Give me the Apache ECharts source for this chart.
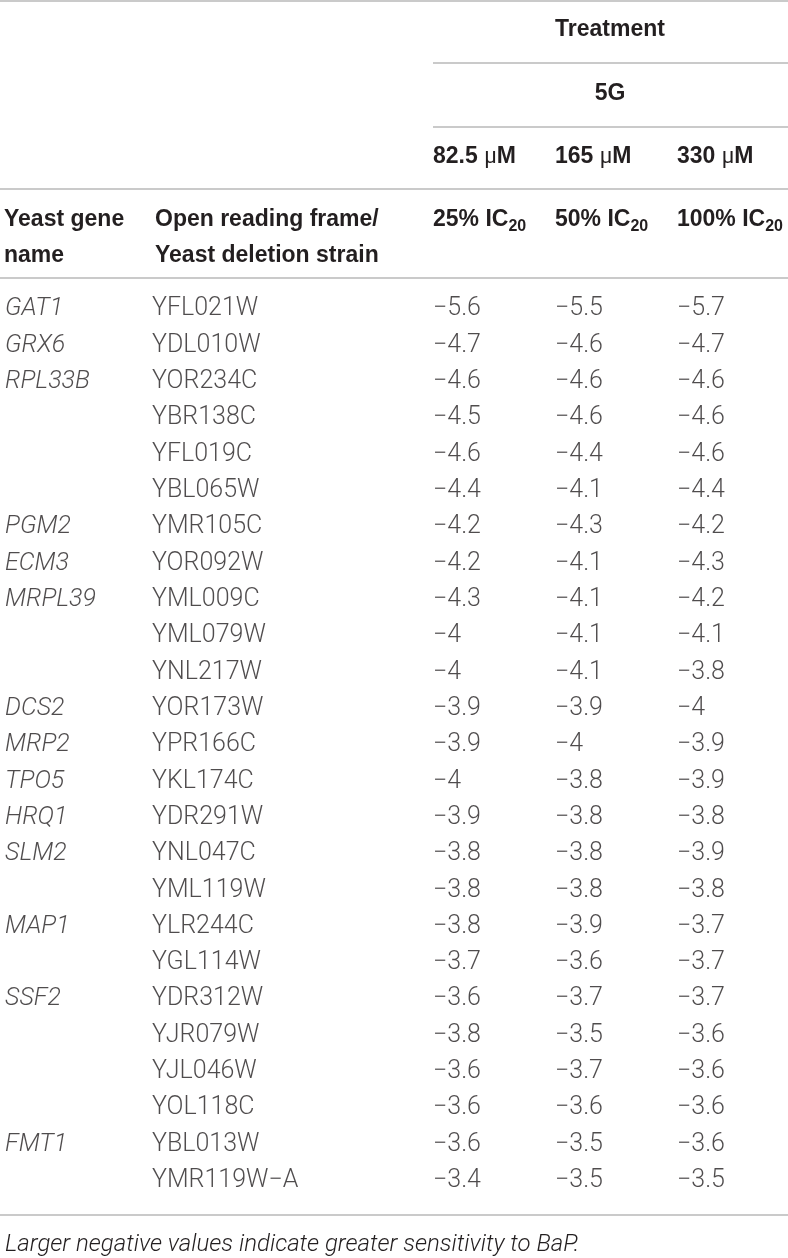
<!DOCTYPE html>
<html>
<head>
<meta charset="utf-8">
<script src="https://cdn.jsdelivr.net/npm/echarts@6/dist/echarts.min.js"></script>
<style>
  html, body { margin: 0; padding: 0; background: #fff; }
  #table-chart { width: 788px; height: 1258px; }
</style>
</head>
<body>
<div id="table-chart"></div>
<script>
// table data
var geneNames = ['GAT1', 'GRX6', 'RPL33B', '', '', '', 'PGM2', 'ECM3', 'MRPL39', '', '',
    'DCS2', 'MRP2', 'TPO5', 'HRQ1', 'SLM2', '', 'MAP1', '', 'SSF2', '', '', '', 'FMT1', ''];
var orfNames = ['YFL021W', 'YDL010W', 'YOR234C', 'YBR138C', 'YFL019C', 'YBL065W', 'YMR105C',
    'YOR092W', 'YML009C', 'YML079W', 'YNL217W', 'YOR173W', 'YPR166C', 'YKL174C', 'YDR291W',
    'YNL047C', 'YML119W', 'YLR244C', 'YGL114W', 'YDR312W', 'YJR079W', 'YJL046W', 'YOL118C',
    'YBL013W', 'YMR119W\u2212A'];
var ic25 = [-5.6, -4.7, -4.6, -4.5, -4.6, -4.4, -4.2, -4.2, -4.3, -4, -4, -3.9, -3.9, -4,
    -3.9, -3.8, -3.8, -3.8, -3.7, -3.6, -3.8, -3.6, -3.6, -3.6, -3.4];
var ic50 = [-5.5, -4.6, -4.6, -4.6, -4.4, -4.1, -4.3, -4.1, -4.1, -4.1, -4.1, -3.9, -4, -3.8,
    -3.8, -3.8, -3.8, -3.9, -3.6, -3.7, -3.5, -3.7, -3.6, -3.5, -3.5];
var ic100 = [-5.7, -4.7, -4.6, -4.6, -4.6, -4.4, -4.2, -4.3, -4.2, -4.1, -3.8, -4, -3.9, -3.9,
    -3.8, -3.9, -3.8, -3.7, -3.7, -3.7, -3.6, -3.6, -3.6, -3.6, -3.5];
var doseLabels = ['82.5', '165', '330'];
var icLabels = ['25%', '50%', '100%'];
var treatmentLabel = 'Treatment';
var strainLabel = '5G';
var captionText = 'Larger negative values indicate greater sensitivity to BaP.';

var bodyFont = 'Roboto, "Liberation Sans", sans-serif';
var headFont = '"Liberation Sans", Arial, sans-serif';
var ruleColor = '#b9b9b9';
var textColor = '#231f20';

// column left edges
var colLeft = [5, 152, 433, 555, 677];
var rowIdx = orfNames.map(function (d, i) { return i; });

function fmtNum(v) { return String(v).replace('-', '\u2212'); }

var grids = [], xAxes = [], yAxes = [], series = [];
var columns = [
    { vals: geneNames, italic: true },
    { vals: orfNames },
    { vals: ic25, num: true },
    { vals: ic50, num: true },
    { vals: ic100, num: true }
];
columns.forEach(function (col, c) {
    grids.push({ left: colLeft[c], width: 100, top: 291, height: 908 });
    xAxes.push({ gridIndex: c, type: 'value', min: 0, max: 1, show: false });
    yAxes.push({ gridIndex: c, type: 'category', data: rowIdx, inverse: true, show: false });
    var data = [];
    col.vals.forEach(function (v, i) {
        if (v !== '') data.push([0, i, v]);
    });
    series.push({
        type: 'scatter',
        xAxisIndex: c,
        yAxisIndex: c,
        symbolSize: 0,
        silent: true,
        data: data,
        label: {
            show: true,
            position: 'right',
            distance: 0,
            color: textColor,
            fontFamily: bodyFont,
            fontWeight: 300,
            fontStyle: col.italic ? 'italic' : 'normal',
            fontSize: 25,
            formatter: function (p) {
                return col.num ? fmtNum(p.value[2]) : p.value[2];
            }
        }
    });
});

function rule(x1, y, x2) {
    return { type: 'line', shape: { x1: x1, y1: y, x2: x2, y2: y },
        style: { stroke: ruleColor, lineWidth: 1.5 }, silent: true };
}
function headText(txt, x, y, align, rich) {
    return { type: 'text', x: x, y: y, silent: true,
        style: { text: txt, fill: textColor, font: 'bold 23px ' + headFont,
            align: align || 'left', verticalAlign: 'middle', rich: rich } };
}
var doseRich = {
    b: { fontFamily: headFont, fontWeight: 'bold', fontSize: 23, fill: textColor },
    m: { fontFamily: bodyFont, fontWeight: 'normal', fontSize: 22, fill: textColor }
};
var icRich = {
    b: { fontFamily: headFont, fontWeight: 'bold', fontSize: 23, fill: textColor },
    s: { fontFamily: headFont, fontWeight: 'bold', fontSize: 16, fill: textColor, padding: [14, 0, 0, 0] }
};

var graphics = [
    rule(0, 1, 788),
    headText(treatmentLabel, 610, 30, 'center'),
    rule(433, 63, 788),
    headText(strainLabel, 610, 94, 'center'),
    rule(433, 127, 788),
    rule(0, 189, 788),
    headText('Yeast gene', 4, 220),
    headText('name', 4, 256),
    headText('Open reading frame/', 155, 220),
    headText('Yeast deletion strain', 155, 256),
    rule(0, 278, 788),
    rule(0, 1215, 788),
    { type: 'text', x: 5, y: 1245, silent: true,
      style: { text: captionText, fill: textColor, align: 'left', verticalAlign: 'middle',
        font: 'italic 300 24px ' + bodyFont } }
];
doseLabels.forEach(function (d, i) {
    graphics.push(headText('{b|' + d + ' }{m|\u03bc}{b|M}', colLeft[i + 2], 157, 'left', doseRich));
    graphics.push(headText('{b|' + icLabels[i] + ' IC}{s|20}', colLeft[i + 2], 220, 'left', icRich));
});

var myChart = echarts.init(document.getElementById('table-chart'));
var option = {
    animation: false,
    backgroundColor: '#fff',
    grid: grids,
    xAxis: xAxes,
    yAxis: yAxes,
    series: series,
    graphic: { elements: graphics }
};
myChart.setOption(option);
</script>
</body>
</html>
